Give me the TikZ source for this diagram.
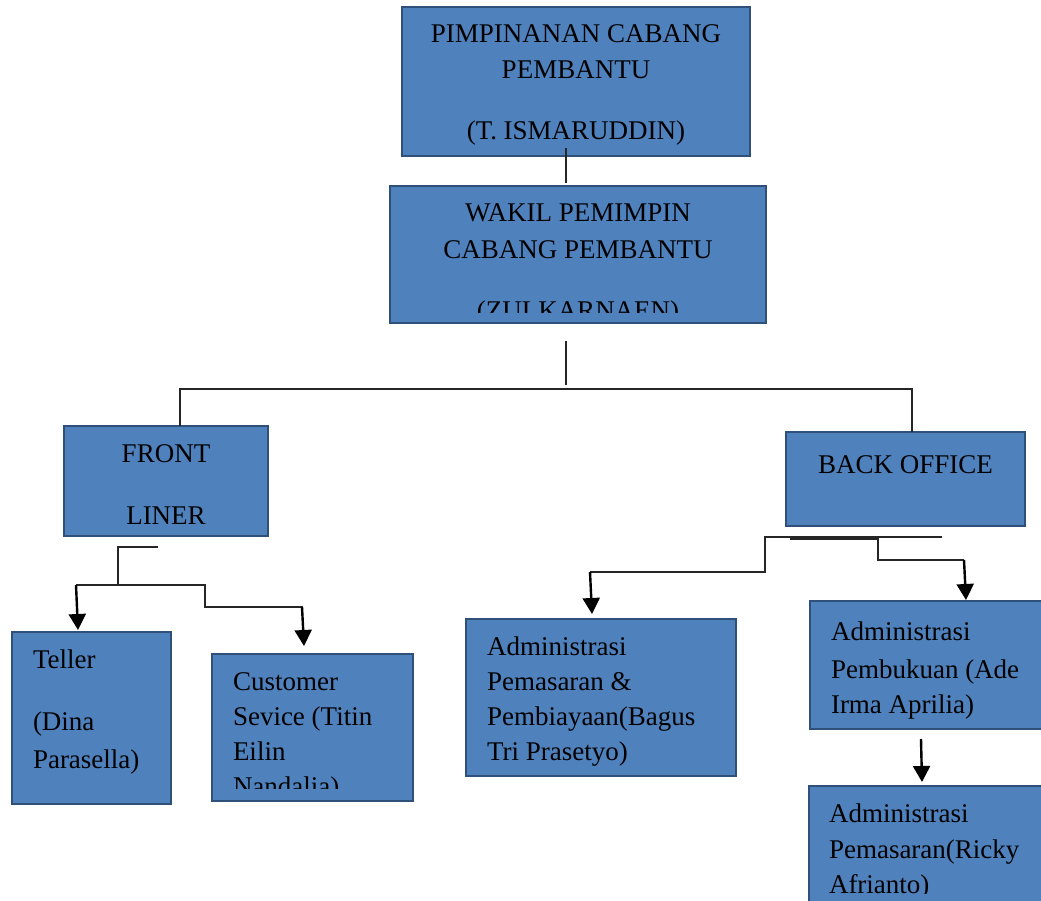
\documentclass[tikz,border=0pt]{standalone}
\usepackage{fontspec}
\setmainfont{Liberation Serif}
\usetikzlibrary{arrows.meta}
\definecolor{boxfill}{HTML}{4F81BD}
\definecolor{boxline}{HTML}{2F5078}
\tikzset{
  orgbox/.style={draw=boxline, fill=boxfill, line width=2.8pt, inner sep=0pt, outer sep=0pt, anchor=north west},
  boxtext/.style={inner sep=0pt, outer sep=0pt, text=black, font=\fontsize{27}{35}\selectfont},
  link/.style={line width=1.2pt, black!85},
  arrowlink/.style={line width=2.4pt, -{Triangle[width=17pt,length=16pt]}}
}
\begin{document}
\begin{tikzpicture}[x=1pt,y=-1pt]
\clip (0,0) rectangle (1041,901);

% boxes
\node[orgbox, minimum width=348pt, minimum height=149pt] (pimpinan) at (402,7) {};
\node[orgbox, minimum width=376pt, minimum height=137pt] (wakil) at (390,186) {};
\node[orgbox, minimum width=204pt, minimum height=110pt] (front) at (64,426) {};
\node[orgbox, minimum width=239pt, minimum height=94pt] (back) at (786,432) {};
\node[orgbox, minimum width=159pt, minimum height=172pt] (teller) at (12,632) {};
\node[orgbox, minimum width=201pt, minimum height=147pt] (cs) at (212,654) {};
\node[orgbox, minimum width=270pt, minimum height=157pt] (admpem) at (466,619) {};
\node[orgbox, minimum width=250pt, minimum height=128pt] (admbuku) at (810,601) {};
\node[orgbox, minimum width=250pt, minimum height=140pt] (admpsr) at (809,786) {};

% texts
\node[boxtext, align=center, anchor=north] (pimpinantext) at (576,18.5)
  {\strut PIMPINANAN CABANG\\[1pt] PEMBANTU\\[26pt] (T. ISMARUDDIN)};
\begin{scope}
\clip (390,186) rectangle (766,312);
\node[boxtext, align=center, anchor=north] (wakiltext) at (578,197.5)
  {\strut WAKIL PEMIMPIN\\[1pt] CABANG PEMBANTU\\[27pt] (ZULKARNAEN)};
\end{scope}
\node[boxtext, align=center, anchor=north] (fronttext) at (166,437.5)
  {\strut FRONT\\[27pt] LINER};
\node[boxtext, align=center, anchor=north] (backtext) at (905.5,448.5)
  {\strut BACK OFFICE};
\node[boxtext, align=left, anchor=north west] (tellertext) at (33,643.5)
  {\strut Teller\\[27pt] (Dina\\[3pt] Parasella)};
\begin{scope}
\clip (212,654) rectangle (413,788);
\node[boxtext, align=left, anchor=north west] (cstext) at (233,665.5)
  {\strut Customer\\ Sevice (Titin\\ Eilin\\ Nandalia)};
\end{scope}
\node[boxtext, align=left, anchor=north west] (admpemtext) at (487,630.5)
  {\strut Administrasi\\ Pemasaran \&\\ Pembiayaan(Bagus\\ Tri Prasetyo)};
\node[boxtext, align=left, anchor=north west] (admbukutext) at (831,615.5)
  {\strut Administrasi\\[3pt] Pembukuan (Ade\\ Irma Aprilia)};
\begin{scope}
\clip (809,786) rectangle (1041,893);
\node[boxtext, align=left, anchor=north west] (admpsrtext) at (829,797.5)
  {\strut Administrasi\\[1pt] Pemasaran(Ricky\\ Afrianto)};
\end{scope}

% connectors
\draw[link] ([xshift=-10pt,yshift=8pt]pimpinan.south) -- ([xshift=-12pt,yshift=3pt]wakil.north);
\draw[link] ([xshift=-12pt,yshift=-18pt]wakil.south) -- ([xshift=-12pt,yshift=-62pt]wakil.south);
\draw[link] ([xshift=14pt]front.north) |- ([xshift=6.5pt,yshift=43pt]back.north) -- ([xshift=6.5pt]back.north);

\coordinate (frontjoin) at (118,585);
\coordinate (tellerend) at (76,585);
\coordinate (csbend) at (205,585);
\coordinate (csend) at (303,607);
\draw[link] ([xshift=-8pt,yshift=-11pt]front.south) -| (frontjoin);
\draw[link] (tellerend) -- (csbend) |- (csend);
\draw[arrowlink] (tellerend) -- ([xshift=-13.5pt,yshift=2pt]teller.north);
\draw[arrowlink] ([xshift=-1pt]csend) -- ([xshift=-8.5pt,yshift=8pt]cs.north);

\coordinate (backjoin) at (765,572);
\coordinate (admpemend) at (590,572);
\coordinate (bukubend) at (878,560);
\coordinate (bukuend) at (964,560);
\draw[link] (admpemend) -- (backjoin) -- ([xshift=-140.5pt,yshift=-11pt]back.south) -- ([xshift=36.5pt,yshift=-11pt]back.south);
\draw[link] ([xshift=-115.5pt,yshift=-13pt]back.south) -| (bukubend) -- (bukuend);
\draw[arrowlink] (admpemend) -- ([xshift=-9pt,yshift=5pt]admpem.north);
\draw[arrowlink] (bukuend) -- ([xshift=156pt,yshift=1pt]admbuku.north west);
\draw[arrowlink] ([xshift=111pt,yshift=-10pt]admbuku.south west) -- ([xshift=113pt,yshift=4pt]admpsr.north west);
\end{tikzpicture}
\end{document}
